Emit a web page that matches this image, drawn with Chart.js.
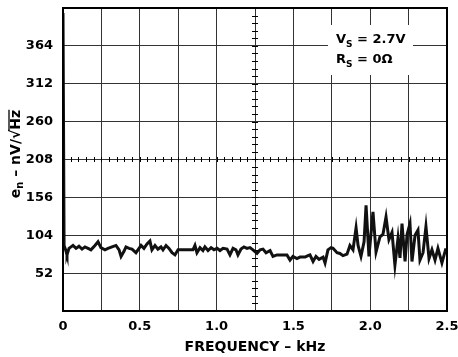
<!DOCTYPE html>
<html>
<head>
<meta charset="utf-8">
<script src="https://cdn.jsdelivr.net/npm/chart.js@4.4.1/dist/chart.umd.min.js"></script>
<style>
  html, body { margin: 0; padding: 0; background: #fff; }
</style>
</head>
<body>
<canvas id="noise" width="458" height="357"></canvas>
<script>
// frequency in kHz, noise in nV/rtHz
const freqKHz = [
  0, 0.007, 0.020, 0.026, 0.039, 0.052, 0.065, 0.085, 0.104, 0.124,
  0.143, 0.163, 0.182, 0.208, 0.228, 0.247, 0.273, 0.293, 0.319, 0.345,
  0.365, 0.378, 0.397, 0.410, 0.430, 0.449, 0.475, 0.495, 0.508, 0.527,
  0.547, 0.566, 0.579, 0.599, 0.618, 0.638, 0.651, 0.671, 0.690, 0.710,
  0.729, 0.749, 0.781, 0.814, 0.846, 0.859, 0.872, 0.892, 0.911, 0.924,
  0.944, 0.964, 0.983, 1.003, 1.022, 1.042, 1.068, 1.087, 1.107, 1.126,
  1.139, 1.159, 1.178, 1.198, 1.217, 1.237, 1.263, 1.283, 1.302, 1.322,
  1.348, 1.367, 1.393, 1.426, 1.458, 1.478, 1.497, 1.523, 1.543, 1.576,
  1.595, 1.608, 1.628, 1.647, 1.667, 1.693, 1.706, 1.725, 1.745, 1.758,
  1.784, 1.803, 1.823, 1.849, 1.868, 1.888, 1.908, 1.921, 1.940, 1.960,
  1.973, 1.992, 2.018, 2.038, 2.064, 2.083, 2.103, 2.122, 2.142, 2.161,
  2.181, 2.194, 2.207, 2.227, 2.240, 2.259, 2.272, 2.292, 2.311, 2.324,
  2.344, 2.363, 2.383, 2.402, 2.422, 2.441, 2.467, 2.493
];
const noiseNV = [
  409, 90, 82, 77, 86, 88, 90, 86, 89, 85,
  88, 86, 84, 90, 95, 87, 84, 86, 88, 90,
  84, 75, 82, 88, 86, 85, 80, 86, 90, 86,
  92, 96, 84, 90, 85, 88, 84, 90, 86, 80,
  77, 84, 84, 84, 84, 90, 80, 87, 83, 88,
  83, 87, 84, 86, 83, 86, 85, 77, 86, 84,
  77, 85, 88, 86, 87, 84, 79, 84, 85, 80,
  83, 75, 77, 77, 77, 70, 75, 72, 74, 74,
  76, 77, 68, 75, 71, 74, 66, 84, 87, 86,
  80, 79, 76, 78, 90, 84, 114, 90, 75, 95,
  145, 75, 136, 81, 102, 105, 129, 98, 108, 63,
  100, 73, 120, 68, 105, 120, 68, 104, 111, 70,
  80, 116, 72, 84, 70, 86, 66, 86
];
const yTickValues = [52, 104, 156, 208, 260, 312, 364];
const xTickLabels = ['0', '0.5', '1.0', '1.5', '2.0', '2.5'];

const FONT = '"DejaVu Sans", sans-serif';

// draws text pieces in a row, sub pieces dropped and smaller
function drawPieces(ctx, pieces, x, y, size) {
  let cx = x;
  pieces.forEach(p => {
    const sz = p.sub ? Math.round(size * 0.7) : size;
    ctx.font = 'bold ' + sz + 'px ' + FONT;
    const dy = p.sub ? size * 0.3 : 0;
    ctx.fillText(p.t, cx, y + dy);
    const w = ctx.measureText(p.t).width;
    if (p.over) {
      ctx.lineWidth = 1.3;
      ctx.beginPath();
      ctx.moveTo(cx - 1, y - size * 0.5);
      ctx.lineTo(cx + w, y - size * 0.5);
      ctx.stroke();
    }
    cx += w;
  });
  return cx - x;
}
function piecesWidth(ctx, pieces, size) {
  let w = 0;
  pieces.forEach(p => {
    ctx.font = 'bold ' + (p.sub ? Math.round(size * 0.7) : size) + 'px ' + FONT;
    w += ctx.measureText(p.t).width;
  });
  return w;
}

function noPad(s) {
  s.paddingTop = 0; s.paddingBottom = 0; s.paddingLeft = 0; s.paddingRight = 0;
}

const decor = {
  id: 'decor',
  afterDraw(chart) {
    const ctx = chart.ctx;
    const a = chart.chartArea;
    const xs = chart.scales.x, ys = chart.scales.y;
    ctx.save();
    ctx.strokeStyle = '#000';
    ctx.fillStyle = '#000';

    // minor ticks on the centre cross
    ctx.lineWidth = 1;
    const yc = ys.getPixelForValue(208);
    for (let f = 0.05; f < 2.5; f += 0.05) {
      const px = Math.round(xs.getPixelForValue(f)) + 0.5;
      ctx.beginPath(); ctx.moveTo(px, yc - 2.5); ctx.lineTo(px, yc + 2.5); ctx.stroke();
    }
    const xc = xs.getPixelForValue(1.25);
    for (let v = 10.4; v < 416; v += 10.4) {
      const py = Math.round(ys.getPixelForValue(v)) + 0.5;
      ctx.beginPath(); ctx.moveTo(xc - 3, py); ctx.lineTo(xc + 3, py); ctx.stroke();
    }

    // frame
    ctx.lineWidth = 2;
    ctx.strokeRect(a.left, a.top, a.right - a.left, a.bottom - a.top);

    // condition box
    ctx.fillStyle = '#fff';
    ctx.fillRect(328, 25, 85, 50);
    ctx.fillStyle = '#000';
    ctx.textAlign = 'left';
    ctx.textBaseline = 'alphabetic';
    drawPieces(ctx, [{t: 'V'}, {t: 'S', sub: true}, {t: ' = 2.7V'}], 336, 43, 13);
    drawPieces(ctx, [{t: 'R'}, {t: 'S', sub: true}, {t: ' = 0\u03A9'}], 336, 63, 13);

    // x title
    ctx.textAlign = 'center';
    ctx.textBaseline = 'middle';
    ctx.font = 'bold 14px ' + FONT;
    ctx.fillText('FREQUENCY \u2013 kHz', (a.left + a.right) / 2, 347);

    // y title, rotated
    const yp = [{t: 'e'}, {t: 'n', sub: true}, {t: ' \u2013 nV/\u221A'}, {t: 'Hz', over: true}];
    ctx.translate(16, 154);
    ctx.rotate(-Math.PI / 2);
    ctx.textAlign = 'left';
    ctx.textBaseline = 'middle';
    const w = piecesWidth(ctx, yp, 14);
    drawPieces(ctx, yp, -w / 2, 0, 14);
    ctx.restore();
  }
};

new Chart(document.getElementById('noise'), {
  type: 'line',
  data: {
    datasets: [{
      data: freqKHz.map((f, i) => ({x: f, y: noiseNV[i]})),
      borderColor: '#111',
      borderWidth: 3,
      pointRadius: 0,
      tension: 0,
      fill: false
    }]
  },
  options: {
    responsive: false,
    animation: false,
    layout: { padding: { left: 0, top: 8, right: 11, bottom: 0 } },
    plugins: { legend: { display: false }, tooltip: { enabled: false } },
    scales: {
      x: {
        type: 'linear',
        min: 0,
        max: 2.5,
        afterFit: s => { s.height = 46; noPad(s); },
        ticks: {
          stepSize: 0.25,
          autoSkip: false,
          maxRotation: 0,
          padding: 8,
          color: '#000',
          font: { family: FONT, size: 13, weight: 'bold' },
          callback: v => {
            const k = Math.round(v * 2);
            return Math.abs(v * 2 - k) < 1e-6 ? xTickLabels[k] : '';
          }
        },
        grid: { color: '#333', lineWidth: 1, drawTicks: false },
        border: { display: false }
      },
      y: {
        min: 0,
        max: 416,
        afterFit: s => { s.width = 63; noPad(s); },
        ticks: {
          stepSize: 52,
          padding: 10,
          color: '#000',
          font: { family: FONT, size: 13, weight: 'bold' },
          callback: v => yTickValues.includes(v) ? String(v) : ''
        },
        grid: { color: '#333', lineWidth: 1, drawTicks: false },
        border: { display: false }
      }
    }
  },
  plugins: [decor]
});
</script>
</body>
</html>
